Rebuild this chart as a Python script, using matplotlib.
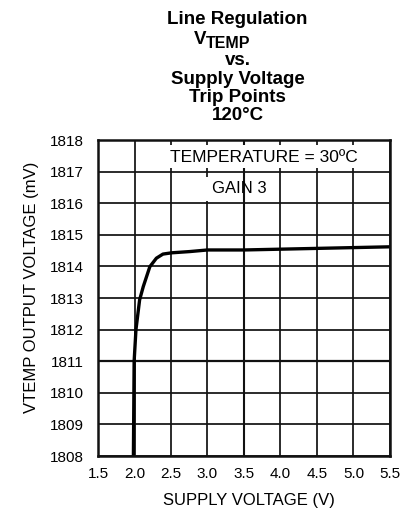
import matplotlib
matplotlib.use("Agg")
import matplotlib.pyplot as plt
from matplotlib.patches import Rectangle

plt.rcParams["font.family"] = ["Liberation Sans", "DejaVu Sans"]

# Curve (supply voltage in V, output in mV).
supply_v = [1.985, 1.99, 1.995, 2.02, 2.07, 2.12, 2.21, 2.30, 2.39, 2.51, 2.76, 3.0, 3.5, 4.5, 5.5]
vtemp_mv = [1808.0, 1809.5, 1811.0, 1812.0, 1812.94, 1813.36, 1813.99, 1814.26, 1814.39,
            1814.43, 1814.47, 1814.52, 1814.52, 1814.57, 1814.62]

x_ticks = [1.5, 2.0, 2.5, 3.0, 3.5, 4.0, 4.5, 5.0, 5.5]
y_ticks = [1808, 1809, 1810, 1811, 1812, 1813, 1814, 1815, 1816, 1817, 1818]

title_lines = ["Line Regulation", "vs.", "Supply Voltage", "Trip Points", "120°C"]

W, H = 406, 514


def fx(px):
    return px / W


def fy(px):
    return 1 - px / H


fig = plt.figure(figsize=(W / 100, H / 100), dpi=100)
ax = fig.add_axes([fx(98), fy(456), 292 / W, 316 / H])

ax.set_xlim(1.5, 5.5)
ax.set_ylim(1808, 1818)
ax.set_xticks(x_ticks)
ax.set_xticklabels([f"{t:.1f}" for t in x_ticks])
ax.set_yticks(y_ticks)
ax.tick_params(axis="both", length=0, labelsize=11)
ax.tick_params(axis="y", pad=10.5)
ax.tick_params(axis="x", pad=8)

ax.set_axisbelow(True)
ax.grid(visible=True, which="major", axis="both", color="#111111", linewidth=1.25)
# slightly heavier lines seen in the original scan
ax.axhline(1811, color="#111111", linewidth=1.6, zorder=0.6)
ax.axvline(3.5, color="#111111", linewidth=1.5, zorder=0.6)
for s in ax.spines.values():
    s.set_linewidth(1.8)
    s.set_color("#111111")

# white label backgrounds covering the grid
ax.add_patch(Rectangle((2.03, 1817.12), 3.44, 0.72, facecolor="white", edgecolor="none", zorder=1))
ax.add_patch(Rectangle((2.53, 1816.06), 0.93, 0.76, facecolor="white", edgecolor="none", zorder=1))
ax.text(3.77, 1817.46, "TEMPERATURE = 30ºC", ha="center", va="center", fontsize=12.5, zorder=3)
ax.text(3.44, 1816.45, "GAIN 3", ha="center", va="center", fontsize=12, zorder=3)

ax.plot(supply_v, vtemp_mv, color="black", linewidth=2.4, solid_capstyle="butt", zorder=2)

# title, one line at a time
cx = fx(237.5)
fig.text(cx, fy(24), title_lines[0], ha="center", va="baseline", fontsize=13.5, fontweight="bold")
fig.text(fx(206), fy(44), "V", ha="right", va="baseline", fontsize=13.5, fontweight="bold")
fig.text(fx(206), fy(47.5), "TEMP", ha="left", va="baseline", fontsize=11.5, fontweight="bold")
for text, base in zip(title_lines[1:], [65, 83.5, 101.5, 119.5]):
    fig.text(cx, fy(base), text, ha="center", va="baseline", fontsize=13.5, fontweight="bold")

fig.text(fx(249), fy(505), "SUPPLY VOLTAGE (V)", ha="center", va="baseline", fontsize=12)
fig.text(fx(31.5), fy(287.5), "VTEMP OUTPUT VOLTAGE (mV)", ha="center", va="center",
         rotation=90, fontsize=12)

fig.savefig("out.png", dpi=100)
